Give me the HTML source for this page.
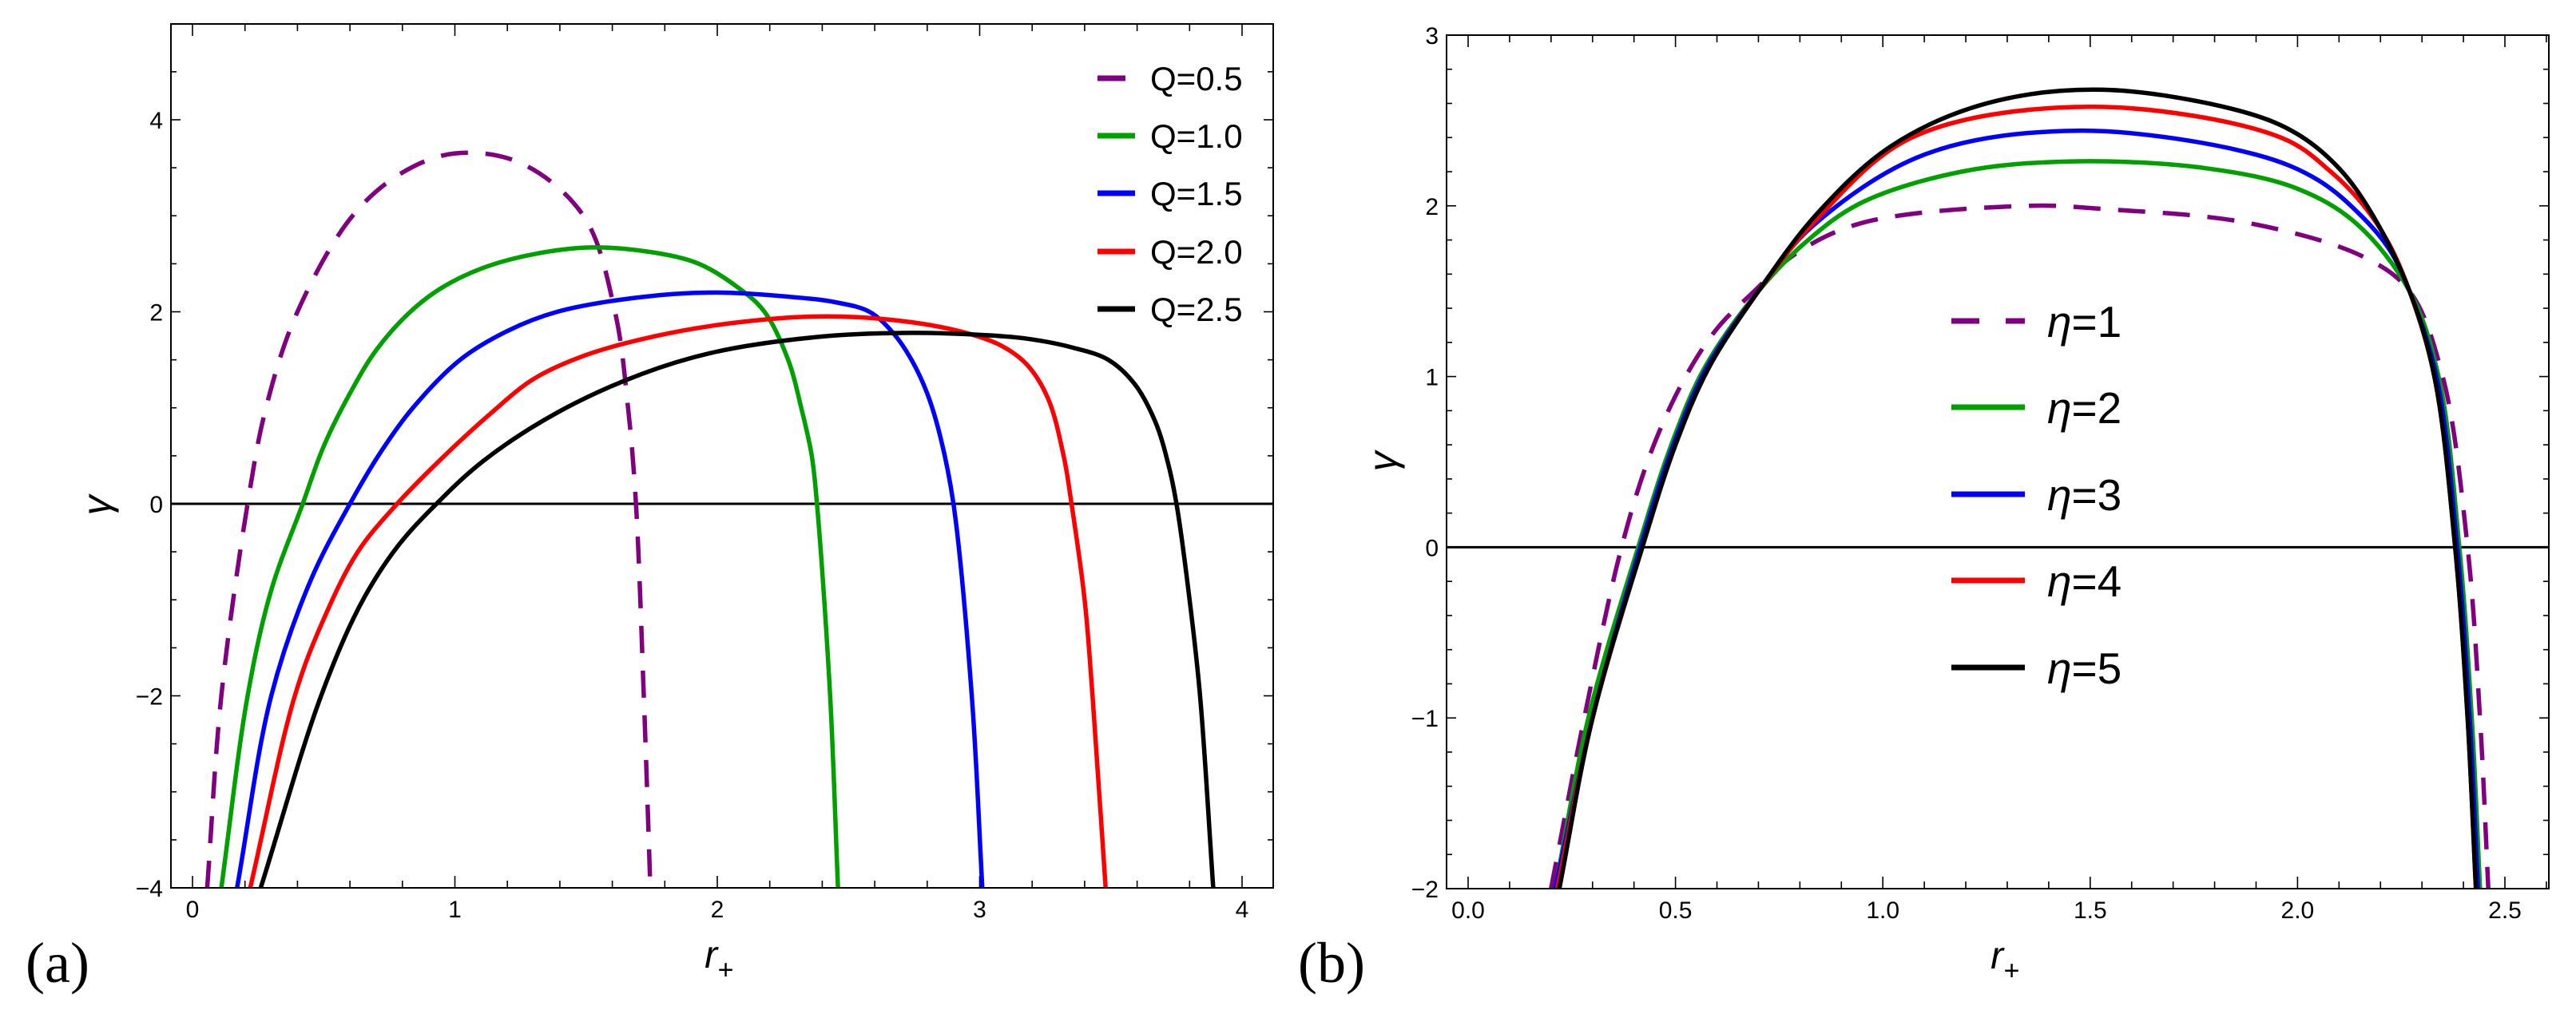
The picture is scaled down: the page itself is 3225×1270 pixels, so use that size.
<!DOCTYPE html>
<html><head><meta charset="utf-8"><style>
html,body{margin:0;padding:0;background:#fff;}
svg{display:block;}
text{font-family:"Liberation Sans",sans-serif;}
</style></head><body>
<svg id="fig" width="3225" height="1270" viewBox="0 0 3225 1270" xmlns="http://www.w3.org/2000/svg">
<text x="72" y="1230" font-size="72" text-anchor="middle" style="font-family:'Liberation Serif',serif">(a)</text>
<text x="1667" y="1230" font-size="72" text-anchor="middle" style="font-family:'Liberation Serif',serif">(b)</text>
</svg>
<script>
// ----- Panel (a) data -----
const aSeriesNames = ['Q=0.5','Q=1.0','Q=1.5','Q=2.0','Q=2.5'];
const aColors = ['#800080','#00a000','#0000ff','#ff0000','#000000'];
const aQ05x = [0.056,0.11,0.21,0.28,0.40,0.61,0.80,1.0,1.25,1.49,1.61,1.66,1.69,1.72,1.745];
const aQ05y = [-4,-2,0,1,2,3,3.45,3.65,3.55,3,2,1,0,-2,-4];
const aQ10x = [0.11,0.21,0.30,0.42,0.50,0.60,0.70,0.83,0.95,1.10,1.30,1.52,1.75,1.93,2.08,2.18,2.27,2.32,2.36,2.38,2.43,2.46];
const aQ10y = [-4,-2,-0.9,0,0.6,1.15,1.6,2.0,2.25,2.45,2.6,2.67,2.62,2.5,2.25,2.0,1.5,1.0,0.5,0,-2,-4];
const aQ15x = [0.17,0.30,0.45,0.60,0.72,0.84,1.02,1.20,1.39,1.70,1.99,2.30,2.45,2.58,2.67,2.74,2.80,2.85,2.90,2.97,3.01];
const aQ15y = [-4,-2,-0.8,0,0.55,1,1.5,1.8,2.0,2.15,2.2,2.15,2.1,2.0,1.78,1.5,1.15,0.7,0,-2,-4];
const aQ20x = [0.22,0.39,0.50,0.63,0.78,0.93,1.14,1.30,1.50,1.77,2.05,2.36,2.65,2.92,3.08,3.18,3.26,3.32,3.35,3.40,3.43,3.48];
const aQ20y = [-4,-2,-1.2,-0.5,0,0.42,0.95,1.3,1.55,1.75,1.88,1.95,1.92,1.8,1.65,1.45,1.1,0.5,0,-1,-2,-4];
const aQ25x = [0.26,0.49,0.64,0.78,0.93,1.11,1.39,1.71,1.99,2.39,2.71,3.00,3.18,3.35,3.49,3.59,3.67,3.72,3.75,3.80,3.84,3.89];
const aQ25y = [-4,-2,-1.05,-0.45,0,0.45,0.95,1.35,1.58,1.74,1.78,1.76,1.72,1.63,1.5,1.25,0.85,0.4,0,-1,-2,-4];
const aXTicks = [0,1,2,3,4];
const aYTicks = [-4,-2,0,2,4];

// ----- Panel (b) data -----
const bSeriesNames = ['η=1','η=2','η=3','η=4','η=5'];
const bColors = ['#800080','#00a000','#0000ff','#ff0000','#000000'];
const bE1x = [0.20,0.28,0.37,0.44,0.52,0.60,0.69,0.79,0.95,1.35,1.54,1.88,2.16,2.27,2.35,2.41,2.44,2.46];
const bE1y = [-2,-1,0,0.55,0.98,1.28,1.5,1.72,1.9,2.0,1.98,1.9,1.7,1.5,1,0,-1,-2];
const bE2x = [0.21,0.29,0.41,0.49,0.57,0.70,0.82,0.95,1.19,1.45,1.78,2.00,2.14,2.27,2.34,2.39,2.42,2.44];
const bE2y = [-2,-1,0,0.6,1.05,1.5,1.8,2.02,2.2,2.26,2.22,2.1,1.9,1.5,1,0,-1,-2];
const bE3x = [0.21,0.30,0.415,0.495,0.575,0.70,0.83,1.10,1.47,1.90,2.05,2.15,2.22,2.27,2.335,2.385,2.415,2.435];
const bE3y = [-2,-1,0,0.6,1.05,1.5,1.88,2.3,2.44,2.3,2.15,1.95,1.75,1.5,1,0,-1,-2];
const bE4x = [0.215,0.30,0.42,0.50,0.58,0.70,0.84,1.07,1.50,1.96,2.08,2.16,2.22,2.27,2.33,2.38,2.41,2.43];
const bE4y = [-2,-1,0,0.6,1.05,1.5,1.92,2.4,2.58,2.4,2.2,2.0,1.78,1.5,1,0,-1,-2];
const bE5x = [0.22,0.30,0.42,0.50,0.58,0.70,0.84,1.02,1.25,1.53,1.87,2.00,2.10,2.18,2.27,2.33,2.38,2.41,2.43];
const bE5y = [-2,-1,0,0.6,1.05,1.5,1.95,2.35,2.6,2.68,2.55,2.42,2.22,1.95,1.5,1,0,-1,-2];
const bXTicks = ['0.0','0.5','1.0','1.5','2.0','2.5'];
const bYTicks = [-2,-1,0,1,2,3];

const NS='http://www.w3.org/2000/svg';
const svg=document.getElementById('fig');
function mk(tag,attrs,parent){const e=document.createElementNS(NS,tag);for(const k in attrs)e.setAttribute(k,attrs[k]);(parent||svg).appendChild(e);return e;}

function dist(a,b){return Math.sqrt(Math.hypot(a[0]-b[0],a[1]-b[1]));}
function smoothPath(pts){
  let d='M'+pts[0][0].toFixed(1)+','+pts[0][1].toFixed(1);
  const n=pts.length;
  for(let i=0;i<n-1;i++){
    const p0=pts[Math.max(0,i-1)],p1=pts[i],p2=pts[i+1],p3=pts[Math.min(n-1,i+2)];
    const d1=dist(p0,p1),d2=dist(p1,p2),d3=dist(p2,p3);
    let c1,c2;
    if(d1<1e-6){c1=[p1[0]+(p2[0]-p1[0])/3,p1[1]+(p2[1]-p1[1])/3];}
    else{
      const k=3*d1*(d1+d2);
      c1=[0,1].map(j=>(d1*d1*p2[j]-d2*d2*p0[j]+(2*d1*d1+3*d1*d2+d2*d2)*p1[j])/k);
    }
    if(d3<1e-6){c2=[p2[0]-(p2[0]-p1[0])/3,p2[1]-(p2[1]-p1[1])/3];}
    else{
      const k=3*d3*(d3+d2);
      c2=[0,1].map(j=>(d3*d3*p1[j]-d2*d2*p3[j]+(2*d3*d3+3*d3*d2+d2*d2)*p2[j])/k);
    }
    d+=' C'+c1[0].toFixed(1)+','+c1[1].toFixed(1)+' '+c2[0].toFixed(1)+','+c2[1].toFixed(1)+' '+p2[0].toFixed(1)+','+p2[1].toFixed(1);
  }
  return d;
}

function panel(cfg){
  const g=mk('g',{});
  
  
  const X=v=>cfg.x0px+(v-cfg.xmin)*cfg.xs;
  const Y=v=>cfg.y0px-(v-cfg.ymin)*cfg.ys;
  const L=cfg.left,R=cfg.right,T=cfg.top,B=cfg.bottom;
  const clipId='clip'+cfg.name;
  const cp=mk('clipPath',{id:clipId},g);
  mk('rect',{x:L,y:T,width:R-L,height:B-T},cp);
  for(let v=cfg.xmin;v<=cfg.xmaxT+1e-9;v+=cfg.xminor){
    const px=X(v);if(px<L||px>R)continue;
    const major=Math.abs(v/cfg.xmajor-Math.round(v/cfg.xmajor))<1e-6;
    const len=major?15:9;
    const t1=mk('line',{x1:px,y1:B,x2:px,y2:B-len,stroke:'#000','stroke-width':1.6},g);
    
    
    mk('line',{x1:px,y1:T,x2:px,y2:T+len,stroke:'#000','stroke-width':1.6},g);
  }
  for(let v=cfg.ymin;v<=cfg.ymaxT+1e-9;v+=cfg.yminor){
    const py=Y(v);if(py<T-1||py>B+1)continue;
    const major=Math.abs(v/cfg.ymajor-Math.round(v/cfg.ymajor))<1e-6;
    const len=major?12:7;
    const t2=mk('line',{x1:L,y1:py,x2:L+len,y2:py,stroke:'#000','stroke-width':1.6},g);
    
    
    mk('line',{x1:R,y1:py,x2:R-len,y2:py,stroke:'#000','stroke-width':1.6},g);
  }
  cfg.xTicks.forEach(t=>{
    const tx=mk('text',{x:X(parseFloat(t)),y:B+37,'font-size':30,'text-anchor':'middle'},g);
    tx.textContent=t;
    
    
  });
  cfg.yTicks.forEach(t=>{
    const ty=mk('text',{x:L-10,y:Y(t)+11,'font-size':30,'text-anchor':'end'},g);
    ty.textContent=(t<0?'\u2212'+(-t):String(t));
    
    
  });
  const z=mk('line',{x1:L,y1:Y(0),x2:R,y2:Y(0),stroke:'#000','stroke-width':3},g);
  
  
  const cg=mk('g',{'clip-path':'url(#'+clipId+')'},g);
  cfg.series.forEach((s,i)=>{
    const pts=s.x.map((v,j)=>[X(v),Y(s.y[j])]);
    const p=mk('path',{d:smoothPath(pts),fill:'none',stroke:cfg.colors[i],'stroke-width':5.5,'stroke-linejoin':'round'},cg);
    if(i===0)p.setAttribute('stroke-dasharray','34,22');
    
    
  });
  const fr=mk('rect',{x:L,y:T,width:R-L,height:B-T,fill:'none',stroke:'#000','stroke-width':2},g);
  
  
  cfg.names.forEach((n,i)=>{
    const ly=cfg.legY[i];
    const le=mk('g',{},g);
    
    
    if(i===0 && cfg.dashLegend){
      mk('line',{x1:cfg.legX1,y1:ly,x2:cfg.legX1+35,y2:ly,stroke:cfg.colors[i],'stroke-width':7},le);
      mk('line',{x1:cfg.legX2-24,y1:ly,x2:cfg.legX2,y2:ly,stroke:cfg.colors[i],'stroke-width':7},le);
    } else if(i===0){
      mk('line',{x1:cfg.legX1,y1:ly,x2:cfg.legX1+35,y2:ly,stroke:cfg.colors[i],'stroke-width':7},le);
    } else {
      mk('line',{x1:cfg.legX1,y1:ly,x2:cfg.legX2,y2:ly,stroke:cfg.colors[i],'stroke-width':7},le);
    }
    const t=mk('text',{x:cfg.legTX,y:ly+cfg.legFS*0.36,'font-size':cfg.legFS},le);
    if(cfg.eta){
      const ts=mk('tspan',{'font-style':'italic'},t);ts.textContent='η';
      const ts2=mk('tspan',{},t);ts2.textContent=n.slice(1);
    } else t.textContent=n;
  });
  const xl=mk('text',{x:cfg.xlabX,y:B+100,'font-size':48,'font-style':'italic','text-anchor':'middle'},g);
  
  
  const r1=mk('tspan',{},xl);r1.textContent='r';
  const r2=mk('tspan',{'font-size':34,dy:14},xl);r2.textContent='+';
  const yl=mk('text',{x:0,y:0,'font-size':50,'font-style':'italic','text-anchor':'middle',transform:'translate('+cfg.ylabX+','+cfg.ylabY+') rotate(-90)'},g);
  yl.textContent='γ';
  
  
}

panel({name:'panel-a',left:214,right:1594,top:30,bottom:1112,
  xmin:0,xmaxT:4.15,xs:328.5,x0px:241,xminor:0.2,xmajor:1,
  ymin:-4,ymaxT:5,ys:120.25,y0px:1112,yminor:0.5,ymajor:2,
  xTicks:aXTicks.map(String),yTicks:aYTicks,
  names:aSeriesNames,colors:aColors,
  series:[{x:aQ05x,y:aQ05y},{x:aQ10x,y:aQ10y},{x:aQ15x,y:aQ15y},{x:aQ20x,y:aQ20y},{x:aQ25x,y:aQ25y}],
  legY:[98,170,242,315,387],legX1:1374,legX2:1421,legTX:1440,legFS:42,dashLegend:false,eta:false,
  xlabX:900,ylabX:138,ylabY:633});
panel({name:'panel-b',left:1811,right:3191,top:44,bottom:1113,
  xmin:0,xmaxT:2.6,xs:519.2,x0px:1838,xminor:0.1,xmajor:0.5,
  ymin:-2,ymaxT:3,ys:213.8,y0px:1113,yminor:0.2,ymajor:1,
  xTicks:bXTicks,yTicks:bYTicks,
  names:bSeriesNames,colors:bColors,
  series:[{x:bE1x,y:bE1y},{x:bE2x,y:bE2y},{x:bE3x,y:bE3y},{x:bE4x,y:bE4y},{x:bE5x,y:bE5y}],
  legY:[402,510,619,727,836],legX1:2443,legX2:2535,legTX:2563,legFS:55,dashLegend:true,eta:true,
  xlabX:2510,ylabX:1748,ylabY:578});
</script>
</body></html>
